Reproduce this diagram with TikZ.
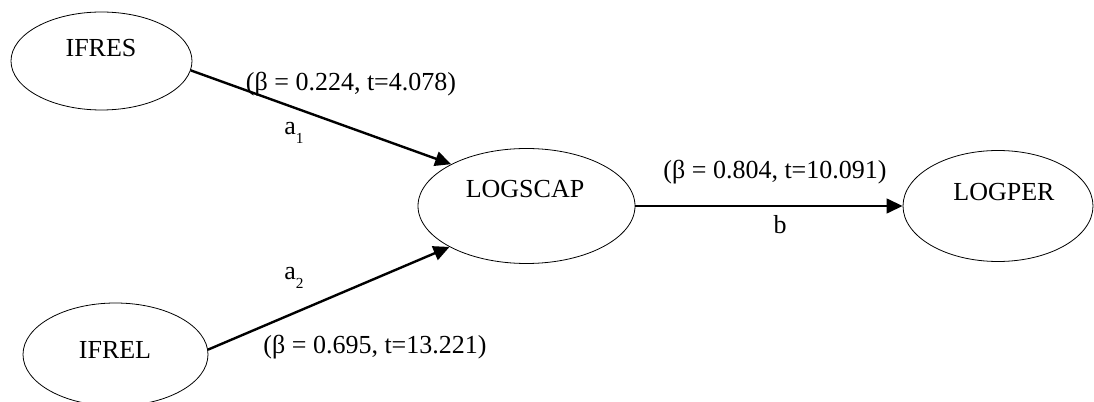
\documentclass[tikz,border=0pt]{standalone}
\usepackage{fontspec}
\setmainfont{Liberation Serif}
\usetikzlibrary{shapes.geometric,arrows.meta}
\newcommand{\lowsub}[1]{\raisebox{-0.33em}{\fontsize{11.5}{11.5}\selectfont #1}}

\begin{document}
\begin{tikzpicture}[x=0.75pt,y=0.75pt,yscale=-1,xscale=1,
    construct/.style={draw, ellipse, line width=0.6pt, inner sep=0pt},
    path arrow/.style={line width=1.8pt, -{Triangle[length=12pt,width=11pt]}},
    every node/.style={font=\fontsize{19.5}{23}\selectfont}]
%set diagram left start at 0, and has height of 402
\useasboundingbox (0,0) rectangle (1094,402);

%Shape: Ellipse [id:ifres]
\node [construct, minimum width=135.75pt, minimum height=73.5pt] (ifres) at (101.5,61) {};
%Shape: Ellipse [id:ifrel]
\node [construct, minimum width=138.75pt, minimum height=77.25pt] (ifrel) at (115.5,354.5) {};
%Shape: Ellipse [id:logscap]
\node [construct, minimum width=162.75pt, minimum height=86.25pt] (logscap) at (526.5,206) {};
%Shape: Ellipse [id:logper]
\node [construct, minimum width=142.5pt, minimum height=83.25pt] (logper) at (998,206) {};

%Straight Lines [id:a1]
\draw [path arrow] (ifres.-6.4) -- (logscap.151.5);
%Straight Lines [id:a2]
\draw [path arrow] (ifrel.3.4) -- (logscap.208.5);
%Straight Lines [id:b]
\draw [path arrow] (logscap.east) -- (logper.west);

% Text Node
\draw (101,48) node [inner sep=0.75pt] (ifresText) {IFRES};
% Text Node
\draw (115,350) node [inner sep=0.75pt] (ifrelText) {IFREL};
% Text Node
\draw (525,189) node [inner sep=0.75pt] (logscapText) {LOGSCAP};
% Text Node
\draw (1004,192) node [inner sep=0.75pt] (logperText) {LOGPER};
% Text Node
\draw (351,84) node [inner sep=0.75pt] (aOneCoef) {(β = 0.224, t=4.078)};
% Text Node
\draw (283,135) node [anchor=base west][inner sep=0.75pt] (aOneName) {a\lowsub{1}};
% Text Node
\draw (375,347) node [inner sep=0.75pt] (aTwoCoef) {(β = 0.695, t=13.221)};
% Text Node
\draw (283,280) node [anchor=base west][inner sep=0.75pt] (aTwoName) {a\lowsub{2}};
% Text Node
\draw (775,172) node [inner sep=0.75pt] (bCoef) {(β = 0.804, t=10.091)};
% Text Node
\draw (780,225) node [inner sep=0.75pt] (bName) {b};

\end{tikzpicture}
\end{document}
